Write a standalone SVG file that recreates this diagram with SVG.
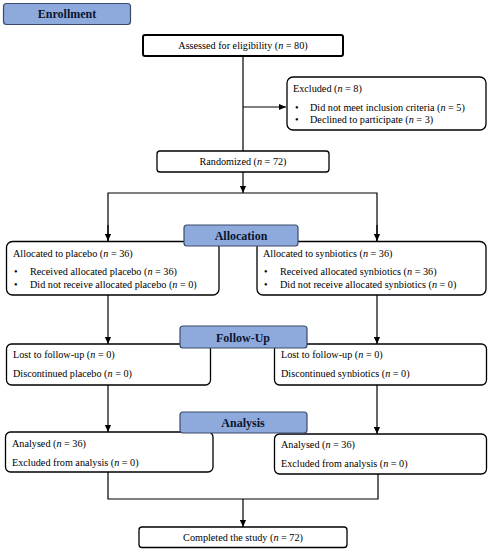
<svg xmlns="http://www.w3.org/2000/svg" width="491" height="550" viewBox="0 0 491 550">
<defs>
<marker id="ah" viewBox="0 0 8 8" refX="8" refY="4" markerWidth="7" markerHeight="7" markerUnits="userSpaceOnUse" orient="auto">
<path d="M0,0.5 L8,4 L0,7.5 Z" fill="#000"/>
</marker>
</defs>
<style>
.box{fill:#fff;stroke:#000;stroke-width:1.3}
.stage{fill:#8eaadc;stroke:#3a4a6a;stroke-width:1.2}
.t{font-family:"Liberation Serif","Times New Roman",serif;font-size:10.2px;fill:#000}
.h{font-family:"Liberation Serif","Times New Roman",serif;font-size:12px;font-weight:bold;fill:#0c1530;text-anchor:middle}
.c{text-anchor:middle}
.ln{fill:none;stroke:#000;stroke-width:1.2}
</style>
<rect width="491" height="550" fill="#fff"/>

<g id="connectors">
<path class="ln" d="M243,56 V151"/>
<path class="ln" d="M243,107 H286" marker-end="url(#ah)"/>
<path class="ln" d="M243,172 V193" marker-end="url(#ah)"/>
<path class="ln" d="M108,241 V193 H377 V241" />
<path class="ln" d="M108,225 V241" marker-end="url(#ah)"/>
<path class="ln" d="M377,225 V241" marker-end="url(#ah)"/>
<path class="ln" d="M108,295 V344" marker-end="url(#ah)"/>
<path class="ln" d="M377,295 V344" marker-end="url(#ah)"/>
<path class="ln" d="M108,385 V432" marker-end="url(#ah)"/>
<path class="ln" d="M377,385 V434" marker-end="url(#ah)"/>
<path class="ln" d="M108,472 V499 H378 V474"/>
<path class="ln" d="M243,499 V527" marker-end="url(#ah)"/>
</g>

<g id="enrollment">
<rect class="stage" x="3.5" y="3.5" width="127" height="21" rx="3"/>
<text class="h" x="67" y="18">Enrollment</text>
</g>

<g id="assessed">
<rect class="box" x="143" y="35" width="200" height="21" rx="2" style="stroke-width:2"/>
<text class="t c" x="243" y="49">Assessed for eligibility  (<tspan font-style="italic">n</tspan> = 80)</text>
</g>

<g id="excluded">
<rect class="box" x="287" y="77" width="199" height="53" rx="6"/>
<text class="t" x="293" y="92">Excluded (<tspan font-style="italic">n</tspan> = 8)</text>
<text class="t" x="295" y="111">•</text>
<text class="t" x="310" y="111">Did not meet inclusion criteria  (<tspan font-style="italic">n</tspan> = 5)</text>
<text class="t" x="295" y="123">•</text>
<text class="t" x="310" y="123">Declined to participate  (<tspan font-style="italic">n</tspan> = 3)</text>
</g>

<g id="randomized">
<rect class="box" x="157" y="151" width="172" height="21" rx="3"/>
<text class="t c" x="243" y="165">Randomized (<tspan font-style="italic">n</tspan> = 72)</text>
</g>

<g id="alloc-placebo">
<rect class="box" x="6.5" y="241.5" width="212.5" height="53.5" rx="6"/>
<text class="t" x="13" y="257">Allocated to placebo (<tspan font-style="italic">n</tspan> = 36)</text>
<text class="t" x="14" y="275">•</text>
<text class="t" x="30" y="275">Received allocated placebo (<tspan font-style="italic">n</tspan> = 36)</text>
<text class="t" x="14" y="288">•</text>
<text class="t" x="30" y="288">Did not receive allocated placebo (<tspan font-style="italic">n</tspan> = 0)</text>
</g>

<g id="alloc-synbiotics">
<rect class="box" x="257" y="241.5" width="229" height="53.5" rx="6"/>
<text class="t" x="263" y="257">Allocated to synbiotics (<tspan font-style="italic">n</tspan> = 36)</text>
<text class="t" x="264" y="275">•</text>
<text class="t" x="280" y="275">Received allocated synbiotics (<tspan font-style="italic">n</tspan> = 36)</text>
<text class="t" x="264" y="288">•</text>
<text class="t" x="280" y="288">Did not receive allocated synbiotics (<tspan font-style="italic">n</tspan> = 0)</text>
</g>

<g id="allocation">
<rect class="stage" x="184" y="225" width="114" height="21" rx="3"/>
<text class="h" x="241" y="240">Allocation</text>
</g>

<g id="fu-placebo">
<rect class="box" x="6.5" y="344" width="204" height="41" rx="5"/>
<text class="t" x="13" y="358">Lost to follow-up (<tspan font-style="italic">n</tspan> = 0)</text>
<text class="t" x="13" y="377">Discontinued placebo (<tspan font-style="italic">n</tspan> = 0)</text>
</g>

<g id="fu-synbiotics">
<rect class="box" x="274.5" y="344" width="212" height="41" rx="5"/>
<text class="t" x="281" y="358">Lost to follow-up (<tspan font-style="italic">n</tspan> = 0)</text>
<text class="t" x="281" y="377">Discontinued synbiotics (<tspan font-style="italic">n</tspan> = 0)</text>
</g>

<g id="followup">
<rect class="stage" x="180" y="326" width="127" height="22" rx="3"/>
<text class="h" x="243" y="342">Follow-Up</text>
</g>

<g id="an-placebo">
<rect class="box" x="5.5" y="432" width="207.5" height="40" rx="5"/>
<text class="t" x="12" y="447">Analysed (<tspan font-style="italic">n</tspan> = 36)</text>
<text class="t" x="12" y="466">Excluded from analysis (<tspan font-style="italic">n</tspan> = 0)</text>
</g>

<g id="an-synbiotics">
<rect class="box" x="274.5" y="434" width="212" height="40" rx="5"/>
<text class="t" x="281" y="448">Analysed (<tspan font-style="italic">n</tspan> = 36)</text>
<text class="t" x="281" y="467">Excluded from analysis (<tspan font-style="italic">n</tspan> = 0)</text>
</g>

<g id="analysis">
<rect class="stage" x="180" y="412" width="127" height="21" rx="3"/>
<text class="h" x="243" y="427">Analysis</text>
</g>

<g id="completed">
<rect class="box" x="139" y="527" width="208" height="20.5" rx="3"/>
<text class="t c" x="243" y="541">Completed the study (<tspan font-style="italic">n</tspan> = 72)</text>
</g>
</svg>
